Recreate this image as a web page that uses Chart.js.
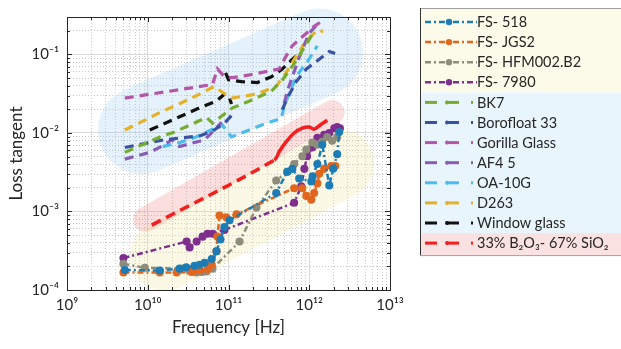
<!DOCTYPE html>
<html>
<head>
<meta charset="utf-8">
<script src="https://cdn.jsdelivr.net/npm/chart.js@4/dist/chart.umd.min.js"></script>
<style>
  html, body { margin: 0; padding: 0; background: #fff; }
  #wrap { width: 621px; height: 349px; }
</style>
</head>
<body>
<div id="wrap"><canvas id="chart"></canvas></div>
<script>
// Loss tangent vs frequency for several glasses
const fs518Freq = [5.2e9, 1.41e10, 2.48e10, 3.0e10, 3.8e10, 4.4e10, 5.06e10, 6.2e10, 7.1e10, 7.96e10, 8.9e10, 1.03e11, 3.9e11, 5.35e11, 6.17e11, 7.5e11, 1.06e12, 1.1e12, 1.26e12, 1.45e12, 1.77e12, 1.98e12, 2.22e12, 2.35e12];
const fs518Tan  = [1.8e-4, 1.77e-4, 1.87e-4, 1.95e-4, 2.03e-4, 2.1e-4, 2.22e-4, 2.48e-4, 3.12e-4, 4.39e-4, 6.35e-4, 7.74e-4, 1.72e-3, 3.21e-3, 3.49e-3, 2.63e-3, 2.41e-3, 2.8e-3, 4.03e-3, 7.1e-3, 2.15e-3, 3.49e-3, 5.35e-3, 1.03e-2];

const jgs2Freq = [5.0e9, 1.41e10, 2.28e10, 3.5e10, 4.39e10, 5.5e10, 6.2e10, 7.1e10, 7.3e10, 7.74e10, 9.4e10, 1.26e11, 6.5e11, 8.2e11, 9.2e11, 1.06e12, 1.15e12, 1.26e12, 1.33e12, 1.53e12, 1.87e12, 2.1e12];
const jgs2Tan  = [1.67e-4, 1.67e-4, 1.67e-4, 1.7e-4, 1.77e-4, 1.85e-4, 2.09e-4, 3.12e-4, 4.78e-4, 8.9e-4, 8.43e-4, 9.2e-4, 1.98e-3, 1.98e-3, 1.58e-3, 1.41e-3, 1.72e-3, 2.28e-3, 3.03e-3, 3.49e-3, 3.8e-3, 3.8e-3];

const hfmFreq = [5.0e9, 9.2e9, 2.7e10, 3.3e10, 4.03e10, 4.7e10, 5.35e10, 6.34e10, 1.37e11, 2.22e11, 3.9e11, 5.35e11, 6.5e11, 8.2e11, 9.2e11, 1.09e12, 1.26e12, 1.45e12, 1.67e12, 1.92e12, 2.22e12];
const hfmTan  = [2.15e-4, 1.92e-4, 1.87e-4, 1.75e-4, 1.67e-4, 1.7e-4, 1.72e-4, 1.87e-4, 4.14e-4, 1.12e-3, 2.48e-3, 3.21e-3, 4.03e-3, 5.06e-3, 6.17e-3, 7.54e-3, 7.1e-3, 7.74e-3, 8.9e-3, 7.96e-3, 8.9e-3];

const fs7980Freq = [5.0e9, 3.03e10, 3.3e10, 4.03e10, 4.77e10, 5.5e10, 6.34e10, 8.9e10, 6.5e11, 7.96e11, 8.7e11, 9.4e11, 1.09e12, 1.26e12, 1.53e12, 1.77e12, 2.04e12, 2.22e12, 2.4e12];
const fs7980Tan  = [2.56e-4, 4.14e-4, 3.49e-4, 4.14e-4, 4.78e-4, 5.2e-4, 5.2e-4, 5.83e-4, 1.29e-3, 2.09e-3, 3.49e-3, 5.06e-3, 6.53e-3, 8.67e-3, 9.45e-3, 1.0e-2, 1.15e-2, 1.19e-2, 1.15e-2];

const bk7Freq = [5.2e9, 1.53e10, 2.15e10, 5.35e10, 6.34e10, 1.12e11, 1.82e11, 3.4e11, 4.77e11, 6.7e11, 8.9e11, 1.12e12];
const bk7Tan  = [5.66e-3, 9.18e-3, 1.03e-2, 1.58e-2, 1.33e-2, 2.09e-2, 2.55e-2, 3.4e-2, 4.9e-2, 7.96e-2, 0.129, 0.187];

const boroFreq = [5.2e9, 1.62e10, 4.39e10, 6.34e10, 8.9e10, 1.09e11, 2e11, 4.64e11, 5.35e11, 6.9e11, 9.2e11, 1.33e12, 1.77e12, 2.09e12];
const boroTan  = [6.53e-3, 8.2e-3, 9.18e-3, 1.06e-2, 1.33e-2, 1.67e-2, null, 1.98e-2, 2.78e-2, 4.51e-2, 6.53e-2, 8.67e-2, 0.109, 0.103];

const gorillaFreq = [5.2e9, 6.34e10, 7.3e10, 8.9e10, 1.12e11, 1.82e11, 4.26e11, 5.06e11, 6.17e11, 8.7e11, 1.15e12, 1.53e12];
const gorillaTan  = [2.78e-2, 4.14e-2, 6.53e-2, 5.2e-2, 5.06e-2, 5.5e-2, 6.53e-2, 9.18e-2, 0.129, 0.177, 0.228, 0.278];

const af45Freq = [5.2e9, 1.06e10, 1.62e10, 1.98e10, 2.48e10, 5.06e10, 6.7e10, 8.2e10, 2e11, 4.9e11, 5.5e11, 7.5e11, 1.0e12, 1.26e12];
const af45Tan  = [4.64e-3, 5.66e-3, 7.11e-3, 8.2e-3, 6.71e-3, 8.2e-3, 1.09e-2, 1.37e-2, null, 2.42e-2, 3.7e-2, 9.18e-2, 0.187, 0.242];

const oaFreq = [1.53e10, 2.48e10, 4.03e10, 6.34e10, 8.2e10, 1.09e11, 2.95e11, 4.5e11, 4.9e11, 5.66e11, 7.1e11, 9.4e11, 1.26e12];
const oaTan  = [6.71e-3, 7.54e-3, 8.93e-3, 1.12e-2, 1.29e-2, 8.93e-3, 1.33e-2, 1.53e-2, 2.22e-2, 3.21e-2, 5.5e-2, 7.96e-2, 0.129];

const d263Freq = [5.2e9, 1.41e10, 3.3e10, 6.7e10, 8.4e10, 1.09e11, 2.2e11, 3.9e11, 5.06e11, 7.1e11, 9.4e11, 1.26e12, 1.49e12];
const d263Tan  = [1.09e-2, 1.82e-2, 2.7e-2, 3.92e-2, 3.3e-2, 2.78e-2, 3.12e-2, 3.92e-2, 5.66e-2, 0.1, 0.153, 0.204, 0.197];

const windowFreq = [1.06e10, 4.39e10, 7.1e10, 8.9e10, 1.03e11, 1.09e11, 1.0e11, 9.2e10, 1.0e11, 1.45e11, 2.28e11, 3.4e11, 4.64e11, 6.0e11, 7.5e11];
const windowTan  = [1.09e-2, 2.09e-2, 2.55e-2, 3.12e-2, 2.78e-2, 2.34e-2, null, 5.82e-2, 4.77e-2, 4.51e-2, 4.39e-2, 5.2e-2, 6.53e-2, 8.43e-2, 0.103];

const boroSilFreq = [1.12e10, 3.7e11, 4.26e11, 5.2e11, 6.5e11, 8.2e11, 1.0e12, 1.15e12, 1.41e12, 1.67e12];
const boroSilTan  = [6.7e-4, 4.51e-3, 5.82e-3, 7.74e-3, 1.0e-2, 1.15e-2, 1.19e-2, 1.12e-2, 1.29e-2, 1.45e-2];

// shaded groups: [freq, tan] of both ends of each band
const bandYellow = [[1.62e10, 2.7e-4], [2.35e12, 4.03e-3]];
const bandRed    = [[9.45e9, 7.96e-4], [1.92e12, 1.82e-2]];
const bandBlue   = [[8.5e9, 1.09e-2], [1.33e12, 0.106]];

const xTickDecades = [9, 13];
const yTickDecades = [-4, 0];

const FONT = 'Lato, "Open Sans", "Noto Sans", sans-serif';
const INK = '#262626';

function pairs(f, t) { return f.map((v, i) => ({ x: v, y: t[i] })); }

const SUP = { '-': '\u207B', '0': '\u2070', '1': '\u00B9', '2': '\u00B2', '3': '\u00B3', '4': '\u2074', '5': '\u2075', '6': '\u2076', '7': '\u2077', '8': '\u2078', '9': '\u2079' };
function powLabel(v) {
  const e = String(Math.round(Math.log10(v)));
  return '10' + e.split('').map(c => SUP[c]).join('');
}
function logTicks(lo, hi, max) {
  const out = [];
  for (let n = lo; n < hi; n++) {
    for (let m = 1; m <= 9; m++) {
      const v = m * Math.pow(10, n);
      if (v <= max * 1.001) out.push({ value: v, major: m === 1 });
    }
  }
  if (Math.pow(10, hi) <= max * 1.001) out.push({ value: Math.pow(10, hi), major: true });
  return out;
}

function fsSet(label, f, t, color) {
  return { label, data: pairs(f, t), borderColor: color, backgroundColor: color, borderWidth: 2.5,
    borderDash: [6, 3, 2, 3], pointRadius: 2.8, pointHoverRadius: 0, showLine: true, group: 0 };
}
function glassSet(label, f, t, color, group) {
  return { label, data: pairs(f, t), borderColor: color, backgroundColor: color, borderWidth: 3.2,
    borderDash: [9, 6], pointRadius: 0, showLine: true, group: group };
}

const datasets = [
  fsSet('FS- 518', fs518Freq, fs518Tan, '#1c7db6'),
  fsSet('FS- JGS2', jgs2Freq, jgs2Tan, '#e2661e'),
  fsSet('FS- HFM002.B2', hfmFreq, hfmTan, '#8e8d7b'),
  fsSet('FS- 7980', fs7980Freq, fs7980Tan, '#7e2f8e'),
  glassSet('BK7', bk7Freq, bk7Tan, '#77ac30', 1),
  glassSet('Borofloat 33', boroFreq, boroTan, '#3a52a2', 1),
  glassSet('Gorilla Glass', gorillaFreq, gorillaTan, '#b455a8', 1),
  glassSet('AF4 5', af45Freq, af45Tan, '#8a5cb6', 1),
  glassSet('OA-10G', oaFreq, oaTan, '#4dbdee', 1),
  glassSet('D263', d263Freq, d263Tan, '#e3b22a', 1),
  glassSet('Window glass', windowFreq, windowTan, '#111111', 1),
  Object.assign(glassSet('33% B\u2082O\u2083- 67% SiO\u2082', boroSilFreq, boroSilTan, '#f51d1d', 2), {
    borderWidth: 3.5, tension: 0.35,
    segment: { borderDash: c => c.p0DataIndex === 0 ? [10, 6] : [] }
  })
];

const bandPlugin = {
  id: 'bands',
  beforeDatasetsDraw(chart) {
    const { ctx, scales: { x, y } } = chart;
    const bands = [
      { ends: bandYellow, color: 'rgba(240,232,150,0.25)', width: 70 },
      { ends: bandRed, color: 'rgba(240,120,120,0.24)', width: 25 },
      { ends: bandBlue, color: 'rgba(150,205,240,0.25)', width: 88 }
    ];
    ctx.save();
    ctx.lineCap = 'round';
    bands.forEach(b => {
      ctx.strokeStyle = b.color;
      ctx.lineWidth = b.width;
      ctx.beginPath();
      ctx.moveTo(x.getPixelForValue(b.ends[0][0]), y.getPixelForValue(b.ends[0][1]));
      ctx.lineTo(x.getPixelForValue(b.ends[1][0]), y.getPixelForValue(b.ends[1][1]));
      ctx.stroke();
    });
    ctx.restore();
  }
};

// axes box with small inward ticks, like the original figure
const framePlugin = {
  id: 'frame',
  afterDatasetsDraw(chart) {
    const { ctx, chartArea: a, scales: { x, y } } = chart;
    ctx.save();
    ctx.strokeStyle = INK;
    ctx.lineWidth = 1;
    ctx.beginPath();
    x.ticks.forEach(t => {
      const px = Math.round(x.getPixelForValue(t.value)) + 0.5;
      const len = t.major ? 5 : 3;
      ctx.moveTo(px, a.bottom); ctx.lineTo(px, a.bottom - len);
      ctx.moveTo(px, a.top); ctx.lineTo(px, a.top + len);
    });
    y.ticks.forEach(t => {
      const py = Math.round(y.getPixelForValue(t.value)) + 0.5;
      const len = t.major ? 5 : 3;
      ctx.moveTo(a.left, py); ctx.lineTo(a.left + len, py);
      ctx.moveTo(a.right, py); ctx.lineTo(a.right - len, py);
    });
    ctx.stroke();
    ctx.strokeRect(Math.round(a.left) + 0.5, Math.round(a.top) + 0.5, Math.round(a.right - a.left), Math.round(a.bottom - a.top));
    ctx.restore();
  }
};

const legendPlugin = {
  id: 'sideLegend',
  afterDraw(chart) {
    const ctx = chart.ctx;
    const sets = chart.data.datasets;
    const left = 420, right = 626, first = 22, rowH = 20.1;
    const top = first - 14, bottom = first + (sets.length - 1) * rowH + 12;
    const fills = ['#fcfbe9', '#e9f5fc', '#fbe2e2'];
    ctx.save();
    // section backgrounds
    let start = top;
    for (let g = 0; g < 3; g++) {
      const idx = sets.map((s, i) => s.group === g ? i : -1).filter(i => i >= 0);
      const last = idx[idx.length - 1];
      const end = last === sets.length - 1 ? bottom : first + (last + 0.5) * rowH;
      ctx.fillStyle = fills[g];
      ctx.fillRect(left, start, right - left, end - start);
      start = end;
    }
    ctx.strokeStyle = '#a0a0a0';
    ctx.lineWidth = 1;
    ctx.strokeRect(left + 0.5, top + 0.5, right - left, bottom - top);
    ctx.strokeStyle = '#333';
    ctx.beginPath(); ctx.moveTo(left + 0.5, top); ctx.lineTo(left + 0.5, bottom); ctx.stroke();

    sets.forEach((s, i) => {
      const cy = first + i * rowH;
      ctx.strokeStyle = s.borderColor;
      ctx.fillStyle = s.borderColor;
      ctx.lineWidth = s.group === 0 ? 2.5 : 3;
      if (s.group === 0) {
        ctx.setLineDash([6, 3, 2, 3]);
        ctx.beginPath(); ctx.moveTo(425, cy); ctx.lineTo(477, cy); ctx.stroke();
        ctx.setLineDash([]);
        ctx.beginPath(); ctx.arc(449, cy, 3.2, 0, Math.PI * 2); ctx.fill();
      } else {
        ctx.beginPath(); ctx.moveTo(425, cy); ctx.lineTo(437, cy); ctx.stroke();
        ctx.beginPath(); ctx.moveTo(446, cy); ctx.lineTo(459, cy); ctx.stroke();
        ctx.beginPath(); ctx.arc(447, cy, 2, 0, Math.PI * 2); ctx.fill();
        ctx.fillRect(471, cy - 1.5, 2, 3);
      }
      ctx.fillStyle = INK;
      ctx.font = '14.5px ' + FONT;
      ctx.textBaseline = 'middle';
      ctx.textAlign = 'left';
      ctx.fillText(s.label, 477, cy + 0.5);
    });
    ctx.restore();
  }
};

const gridColor = c => (c.tick && c.tick.major) ? '#dadada' : '#c9c9c9';
const gridDash = c => (c.tick && c.tick.major) ? [] : [1, 2];

new Chart(document.getElementById('chart'), {
  type: 'scatter',
  data: { datasets },
  options: {
    responsive: true,
    maintainAspectRatio: false,
    animation: false,
    spanGaps: false,
    layout: { padding: { top: 8, right: 231, left: 0, bottom: 0 } },
    plugins: { legend: { display: false }, tooltip: { enabled: false } },
    scales: {
      x: {
        type: 'logarithmic', min: 1e9, max: 1e13,
        afterBuildTicks: s => { s.ticks = logTicks(xTickDecades[0], xTickDecades[1], 1e13); },
        afterFit: s => { s.height = 59; },
        ticks: { autoSkip: false, maxRotation: 0, padding: 6, color: INK, font: { family: FONT, size: 15 },
          callback: (v, i, t) => t[i].major ? powLabel(v) : '' },
        grid: { color: gridColor, lineWidth: 1, drawTicks: false },
        border: { display: false, dash: gridDash },
        title: { display: true, text: 'Frequency [Hz]', color: INK, font: { family: FONT, size: 17 }, padding: { top: 0, bottom: 11 } }
      },
      y: {
        type: 'logarithmic', min: 1e-4, max: 0.3,
        afterBuildTicks: s => { s.ticks = logTicks(yTickDecades[0], yTickDecades[1], 0.3); },
        afterFit: s => { s.width = 67; },
        ticks: { autoSkip: false, padding: 8, color: INK, font: { family: FONT, size: 15 },
          callback: (v, i, t) => t[i].major ? powLabel(v) : '' },
        grid: { color: gridColor, lineWidth: 1, drawTicks: false },
        border: { display: false, dash: gridDash },
        title: { display: true, text: 'Loss tangent', color: INK, font: { family: FONT, size: 17 }, padding: { top: 6, bottom: 0 } }
      }
    }
  },
  plugins: [bandPlugin, framePlugin, legendPlugin]
});
</script>
</body>
</html>
